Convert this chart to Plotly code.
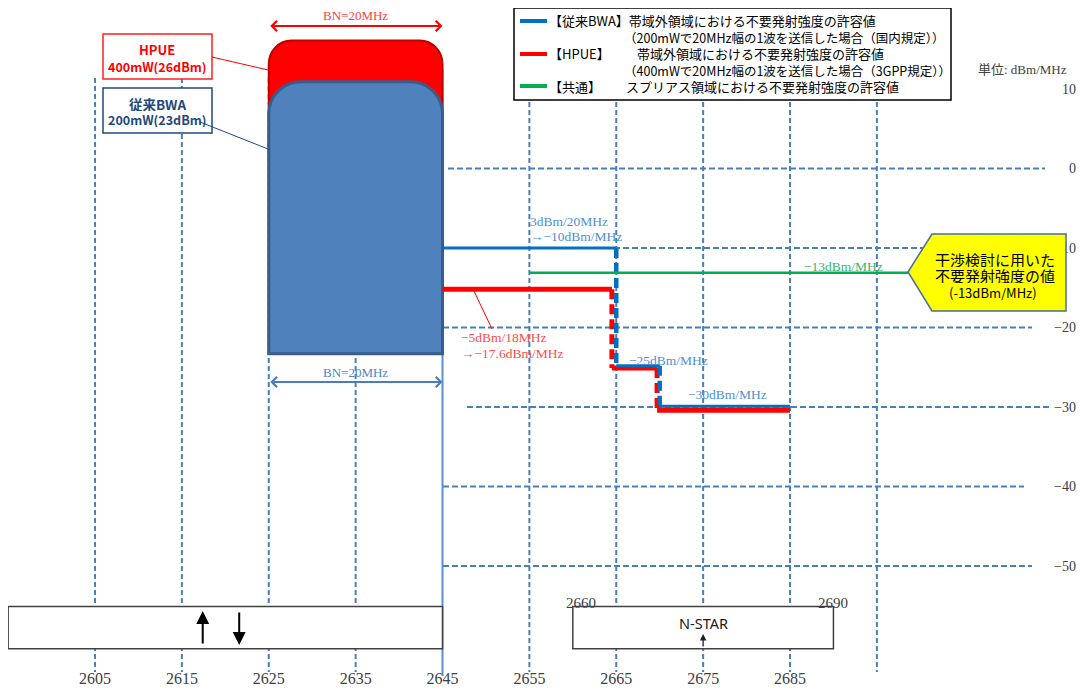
import plotly.graph_objects as go

W, H = 1084, 690
PAD = 8                  # the page body adds 8px before the figure

# ---- data (MHz / dBm per MHz) ----
freq_ticks = [2605, 2615, 2625, 2635, 2645, 2655, 2665, 2675, 2685]
level_ticks = [10, 0, -10, -20, -30, -40, -50]
grid_freqs = [2605, 2615, 2625, 2635, 2655, 2665, 2675, 2685, 2695]
grid_levels = [0, -10, -20, -30, -40, -50]

channel_edges = [2625, 2645]
bwa_block_top = 10.9
hpue_block_top = 16.1
block_floor = -23.3

bwa_edges = [2645, 2665, 2670, 2685]
bwa_levels = [-10, -24.8, -29.9]
hpue_edges = [2645, 2664.5, 2669.7, 2685]
hpue_levels = [-15.2, -25.1, -30.4]
spur_edges = [2655, 2698.6]
spur_level = -13.1

own_band = [2595, 2645]
nstar_band = [2660, 2690]
band_levels = [-55.1, -60.4]

# ---- scale of the drawing (screen pixels) ----
X_PX = 8.6875            # px per MHz
Y_PX = 7.95              # px per dB
x_lo = 2605 - (95 - PAD) / X_PX
x_hi = 2605 + (W - 95) / X_PX
y_hi = (168.5 - PAD) / Y_PX
y_lo = -(H - 168.5) / Y_PX

SERIF = "Liberation Serif, Noto Sans CJK JP"
SANS = "Noto Sans CJK JP, Noto Sans"
GRID = "#4a7ebb"
BLUE = "#0070c0"
RED = "#ff0000"
GREEN = "#00b050"


def px(x):
    return (x - PAD) / (W - PAD)


def py(y):
    return 1 - (y - PAD) / (H - PAD)


def steps(edges, levels):
    hx, hy, vx, vy = [], [], [], []
    for i, lv in enumerate(levels):
        hx += [edges[i], edges[i + 1], None]
        hy += [lv, lv, None]
        if i > 0:
            vx += [edges[i], edges[i], None]
            vy += [levels[i - 1], lv, None]
    return hx, hy, vx, vy


def rounded_top(x0, x1, top, bottom, rx, ry):
    k = 0.4477
    return (f"M {x0},{bottom} L {x0},{top - ry} "
            f"C {x0},{top - ry * k} {x0 + rx * k},{top} {x0 + rx},{top} "
            f"L {x1 - rx},{top} "
            f"C {x1 - rx * k},{top} {x1},{top - ry * k} {x1},{top - ry} "
            f"L {x1},{bottom} Z")


fig = go.Figure()

# emission masks
hx, hy, vx, vy = steps(hpue_edges, hpue_levels)
fig.add_trace(go.Scatter(x=hx, y=hy, mode="lines", line=dict(color=RED, width=5)))
fig.add_trace(go.Scatter(x=vx, y=vy, mode="lines", line=dict(color=RED, width=5, dash="10px,5px")))
hx, hy, vx, vy = steps(bwa_edges, bwa_levels)
fig.add_trace(go.Scatter(x=hx, y=hy, mode="lines", line=dict(color=BLUE, width=3)))
fig.add_trace(go.Scatter(x=vx, y=vy, mode="lines", line=dict(color=BLUE, width=4.5, dash="10px,5px")))
fig.add_trace(go.Scatter(x=spur_edges, y=[spur_level] * 2, mode="lines",
                         line=dict(color=GREEN, width=2.5)))

shapes = []
# HPUE channel block (behind)
shapes.append(dict(type="path", layer="below",
                   path=rounded_top(channel_edges[0], channel_edges[1], hpue_block_top,
                                    block_floor, 2.6, 3.0),
                   fillcolor=RED, line=dict(color="#c00000", width=2)))
# grid
h_extent = {0: (448, 1045), -10: (443, 1040), -20: (443, 1032),
            -30: (467, 1049), -40: (443, 1024), -50: (443, 1032)}
for lv in grid_levels:
    a, b = h_extent[lv]
    shapes.append(dict(type="line", layer="below", xref="paper", yref="y",
                       x0=px(a), x1=px(b), y0=lv, y1=lv,
                       line=dict(color=GRID, width=1.8, dash="6px,3px")))
for f in grid_freqs:
    shapes.append(dict(type="line", layer="below", xref="x", yref="paper",
                       x0=f, x1=f, y0=py(78), y1=py(672),
                       line=dict(color=GRID, width=2, dash="5px,3px")))
shapes.append(dict(type="line", layer="below", xref="x", yref="paper",
                   x0=channel_edges[1], x1=channel_edges[1], y0=py(70), y1=py(676),
                   line=dict(color="#5b8fd0", width=2)))
# BWA channel block
shapes.append(dict(type="path", layer="below",
                   path=rounded_top(channel_edges[0], channel_edges[1], bwa_block_top,
                                    block_floor, 3.7, 4.0),
                   fillcolor="#4f81bd", line=dict(color="#385d8a", width=3)))

# band plan boxes
for band in (own_band, nstar_band):
    shapes.append(dict(type="rect", layer="above", x0=band[0], x1=band[1],
                       y0=band_levels[0], y1=band_levels[1],
                       fillcolor="white", line=dict(color="#404040", width=1.5)))

# callout boxes for the two terminals
shapes.append(dict(type="rect", layer="above", xref="paper", yref="paper",
                   x0=px(103), x1=px(212), y0=py(34), y1=py(79),
                   fillcolor="white", line=dict(color="#ff2020", width=1.5)))
shapes.append(dict(type="rect", layer="above", xref="paper", yref="paper",
                   x0=px(103), x1=px(212), y0=py(88), y1=py(133),
                   fillcolor="white", line=dict(color="#1f497d", width=1.5)))
shapes.append(dict(type="line", layer="above", xref="paper", yref="paper",
                   x0=px(212), y0=py(57), x1=px(268), y1=py(70),
                   line=dict(color=RED, width=1)))
shapes.append(dict(type="line", layer="above", xref="paper", yref="paper",
                   x0=px(200), y0=py(122), x1=px(268), y1=py(149),
                   line=dict(color="#1f497d", width=1)))
shapes.append(dict(type="line", layer="above", xref="paper", yref="paper",
                   x0=px(473), y0=py(289), x1=px(492), y1=py(329),
                   line=dict(color=RED, width=1)))

# legend box
shapes.append(dict(type="rect", layer="above", xref="paper", yref="paper",
                   x0=px(514), x1=px(951), y0=py(8), y1=py(100),
                   fillcolor="white", line=dict(color="black", width=1.5)))
for yy, c in ((21, BLUE), (54, RED), (86, GREEN)):
    shapes.append(dict(type="line", layer="above", xref="paper", yref="paper",
                       x0=px(520), x1=px(547), y0=py(yy), y1=py(yy),
                       line=dict(color=c, width=4)))

# yellow pointer box
pts = [(908, 272), (932, 234), (1066, 234), (1066, 311), (932, 311)]
path = "M " + " L ".join(f"{px(a)},{py(b)}" for a, b in pts) + " Z"
shapes.append(dict(type="path", layer="above", xref="paper", yref="paper", path=path,
                   fillcolor="#ffff00", line=dict(color="#4a6f9a", width=1.5)))

ann = []


def note(text, x, y, size, color="black", family=SANS, xanchor="left",
         xref="x", yref="y", **kw):
    ann.append(dict(text=text, x=x, y=y, xref=xref, yref=yref, showarrow=False,
                    xanchor=xanchor, yanchor="middle", borderpad=0,
                    font=dict(size=size, color=color, family=family), **kw))


def row(text, x, y, size, color="black", xanchor="left", family=SANS):
    # stacked text lines sit closer than plotly's default line box
    note(text, px(x), py(y), size, color, family, xanchor, xref="paper", yref="paper",
         height=15)


def h_arrow(x_head, x_tail, ypix, color, width, head):
    # double-headed horizontal arrow at pixel row ypix
    ann.append(dict(text="", x=x_head, y=py(ypix), xref="x", yref="paper",
                    ax=x_tail, ay=0, axref="x", ayref="pixel", showarrow=True,
                    arrowhead=head, startarrowhead=head, arrowside="end+start",
                    arrowwidth=width, arrowcolor=color, arrowsize=1, startarrowsize=1))


def v_arrow(x, y_head, y_tail, color, width, head, size):
    ann.append(dict(text="", x=x, y=py(y_head), xref="x", yref="paper",
                    ax=0, ay=y_tail - y_head, axref="pixel", ayref="pixel",
                    showarrow=True, arrowhead=head, arrowwidth=width,
                    arrowcolor=color, arrowsize=size))


# bandwidth arrows
h_arrow(channel_edges[1], channel_edges[0], 26, RED, 2, 4)
note("BN=20MHz", sum(channel_edges) / 2, py(16), 13, "#ff4040", SERIF, "center", yref="paper")
h_arrow(channel_edges[1], channel_edges[0], 382, "#4a7ebb", 2, 4)
note("BN=20MHz", sum(channel_edges) / 2, py(372), 13, "#4a86c8", SERIF, "center", yref="paper")

# terminal labels
row("<b>HPUE</b>", 157, 50, 13, RED, "center")
row("<b>400mW(26dBm)</b>", 157, 66, 12.5, RED, "center")
row("<b>従来BWA</b>", 157, 104, 13.5, "#1f497d", "center")
row("<b>200mW(23dBm)</b>", 157, 120, 12.5, "#1f497d", "center")

# mask labels
note("3dBm/20MHz", 2655, -6.7, 13.5, "#4f8fd6", SERIF)
note("→−10dBm/MHz", 2655, -8.5, 13.5, "#4f8fd6", SERIF)
note("−5dBm/18MHz", 2647.0, -21.3, 13.5, "#ff4d4d", SERIF)
note("→−17.6dBm/MHz", 2647.0, -23.3, 13.5, "#ff4d4d", SERIF)
note("−25dBm/MHz", 2666.3, -24.2, 13.5, "#4f8fd6", SERIF)
note("−30dBm/MHz", 2673.1, -28.4, 13.5, "#4f8fd6", SERIF)
note("−13dBm/MHz", 2686.5, -12.3, 13.5, "#3cb371", SERIF)

# legend text
row("【従来BWA】帯域外領域における不要発射強度の許容値", 548, 21, 13)
row("（200mWで20MHz幅の1波を送信した場合（国内規定））", 623, 38, 12.5)
row("【HPUE】", 548, 54, 13)
row("帯域外領域における不要発射強度の許容値", 636, 54, 13)
row("（400mWで20MHz幅の1波を送信した場合（3GPP規定））", 623, 70, 12.5)
row("【共通】", 548, 86, 13)
row("スプリアス領域における不要発射強度の許容値", 625, 86, 13)

note("単位: dBm/MHz", px(1068), py(69), 13, "#404040", SERIF, "right", xref="paper", yref="paper")

# pointer text
row("干渉検討に用いた", 995, 259, 15, xanchor="center")
row("不要発射強度の値", 995, 275, 15, xanchor="center")
row("(-13dBm/MHz)", 993, 292, 13, xanchor="center")

# band plan
note("N-STAR", sum(nstar_band) / 2, py(623), 14.5, "#202020", "Noto Sans", "center", yref="paper")
note(str(nstar_band[0]), nstar_band[0], py(603), 15, "#404040", SERIF, "center", yref="paper", xshift=8)
note(str(nstar_band[1]), nstar_band[1], py(603), 15, "#404040", SERIF, "center", yref="paper")
v_arrow(2617.4, 611, 645, "black", 2, 2, 1.3)
v_arrow(2621.6, 645, 611, "black", 2, 2, 1.3)
v_arrow(2675, 634, 648, "#202020", 1.3, 2, 1.0)

fig.update_layout(
    width=W, height=H, margin=dict(l=0, r=PAD, t=0, b=PAD),
    plot_bgcolor="white", paper_bgcolor="white", showlegend=False,
    shapes=shapes, annotations=ann,
    xaxis=dict(range=[x_lo, x_hi], showgrid=False, zeroline=False, showline=False,
               tickmode="array", tickvals=freq_ticks, ticktext=[str(v) for v in freq_ticks],
               ticks="", ticklabelposition="inside",
               tickfont=dict(family=SERIF, size=16, color="#404040")),
    yaxis=dict(range=[y_lo, y_hi], side="right", showgrid=False, zeroline=False,
               showline=False, tickmode="array", tickvals=level_ticks, ticks="",
               ticklabelposition="inside", ticklabelstandoff=5,
               tickfont=dict(family=SERIF, size=14, color="#404040")),
)

fig.write_html("out.html")
